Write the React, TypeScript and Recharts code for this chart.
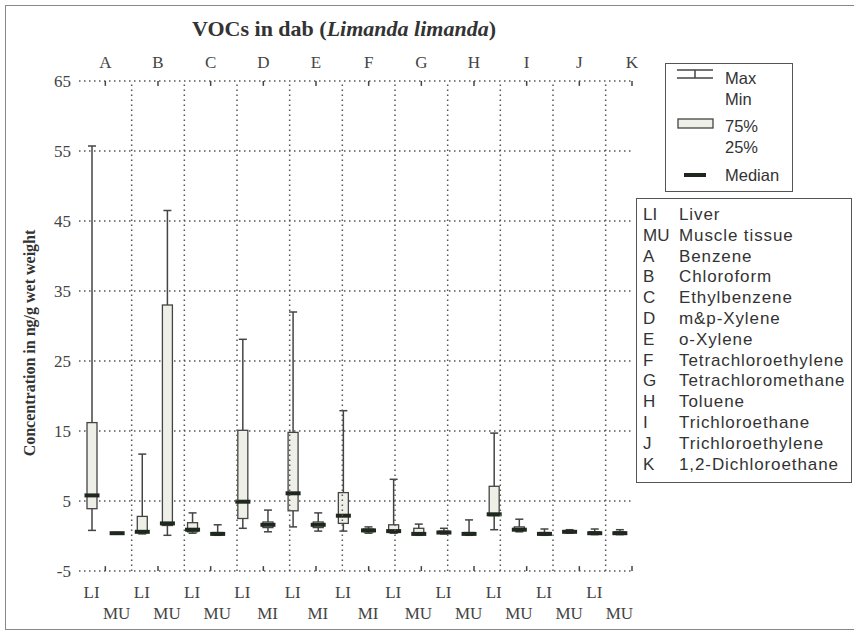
import React from "react";
import {
  Bar,
  CartesianGrid,
  ComposedChart,
  ReferenceArea,
  ReferenceLine,
  XAxis,
  YAxis,
} from "recharts";

// compounds A..K, two tissues each (liver first, muscle second)
const compounds = ["A", "B", "C", "D", "E", "F", "G", "H", "I", "J", "K"];
const compoundNames = [
  "Benzene",
  "Chloroform",
  "Ethylbenzene",
  "m&p-Xylene",
  "o-Xylene",
  "Tetrachloroethylene",
  "Tetrachloromethane",
  "Toluene",
  "Trichloroethane",
  "Trichloroethylene",
  "1,2-Dichloroethane",
];
const tissueLabels = [
  "LI", "MU", "LI", "MU", "LI", "MU", "LI", "MI", "LI", "MI", "LI",
  "MI", "LI", "MU", "LI", "MU", "LI", "MU", "LI", "MU", "LI", "MU",
];

// ng/g wet weight
const mins = [0.8, 0.3, 0.3, 0.1, 0.4, 0.1, 1.1, 0.6, 1.3, 0.7, 0.7, 0.4, 0.4, 0.1, 0.3, 0.1, 0.9, 0.6, 0.1, 0.4, 0.2, 0.2];
const q1s = [3.9, 0.35, 0.5, 1.5, 0.6, 0.2, 2.5, 1.2, 3.6, 1.2, 1.8, 0.6, 0.5, 0.2, 0.4, 0.2, 2.9, 0.8, 0.2, 0.5, 0.3, 0.3];
const medians = [5.8, 0.4, 0.6, 1.8, 0.9, 0.3, 4.9, 1.6, 6.1, 1.6, 2.9, 0.8, 0.7, 0.3, 0.5, 0.3, 3.1, 0.9, 0.3, 0.6, 0.4, 0.4];
const q3s = [16.2, 0.45, 2.8, 33.0, 1.9, 0.5, 15.1, 2.0, 14.8, 2.0, 6.2, 1.0, 1.6, 1.1, 0.7, 0.5, 7.1, 1.3, 0.5, 0.7, 0.6, 0.6];
const maxs = [55.7, 0.5, 11.7, 46.5, 3.3, 1.6, 28.1, 3.7, 32.0, 3.3, 17.9, 1.3, 8.1, 1.7, 1.1, 2.3, 14.7, 2.4, 1.0, 0.9, 1.0, 0.9];

const yTicks = [-5, 5, 15, 25, 35, 45, 55, 65];
const groupCenters = [1, 3, 5, 7, 9, 11, 13, 15, 17, 19, 21];
const groupEdges = [2, 4, 6, 8, 10, 12, 14, 16, 18, 20];

const rows = tissueLabels.map((t, i) => ({
  key: `${compounds[Math.floor(i / 2)]}-${i % 2 ? "MU" : "LI"}`,
  min: mins[i],
  q1: q1s[i],
  median: medians[i],
  q3: q3s[i],
  max: maxs[i],
}));

const INK = "#444";
const SERIF = '"Liberation Serif", "Times New Roman", serif';
const SANS = '"Liberation Sans", Arial, sans-serif';

function BoxShape(props: any) {
  const { x, y, width, height, payload } = props;
  const top = Math.min(y, y + height);
  const h = Math.abs(height);
  const { min, q1, median, q3, max } = payload;
  const py = (v: number) => top + (h * (max - v)) / (max - min);
  const cx = x + width / 2;
  return (
    <g>
      <line x1={cx} x2={cx} y1={py(max)} y2={py(min)} stroke={INK} strokeWidth={1.5} />
      <line x1={cx - 4} x2={cx + 4} y1={py(max)} y2={py(max)} stroke={INK} strokeWidth={1.5} />
      <line x1={cx - 4} x2={cx + 4} y1={py(min)} y2={py(min)} stroke={INK} strokeWidth={1.5} />
      <rect
        x={x}
        y={py(q3)}
        width={width}
        height={Math.max(py(q1) - py(q3), 0.5)}
        fill="#eef0e8"
        stroke={INK}
        strokeWidth={1.3}
      />
      <rect x={x - 2.5} y={py(median) - 2} width={width + 5} height={4} fill="#1e281e" />
    </g>
  );
}

function BottomTick(props: any) {
  const { x, y, index } = props;
  const lower = index % 2 === 1;
  return (
    <text
      x={x}
      y={y + (lower ? 40 : 19)}
      textAnchor="middle"
      fontFamily={SERIF}
      fontSize={17}
      fill={INK}
    >
      {tissueLabels[index]}
    </text>
  );
}

function TopTick(props: any) {
  const { x, y, payload } = props;
  return (
    <text x={x} y={y - 5} textAnchor="middle" fontFamily={SERIF} fontSize={17} fill={INK}>
      {compounds[(payload.value - 1) / 2]}
    </text>
  );
}

function SummaryLegend() {
  const text = { position: "absolute" as const, left: 59, fontFamily: SANS, fontSize: 16.5, color: "#333", lineHeight: "20px" };
  return (
    <div
      style={{
        position: "absolute",
        left: 665,
        top: 63,
        width: 126,
        height: 127,
        border: "1.5px solid #555",
      }}
    >
      <svg width={50} height={127} style={{ position: "absolute", left: 0, top: 0 }}>
        <line x1={11} x2={47} y1={6} y2={6} stroke={INK} strokeWidth={1.5} />
        <line x1={29} x2={29} y1={6} y2={14} stroke={INK} strokeWidth={1.5} />
        <line x1={11} x2={47} y1={14} y2={14} stroke={INK} strokeWidth={1.5} />
        <rect x={12} y={55} width={35} height={9} fill="#eef0e8" stroke={INK} strokeWidth={1.3} />
        <rect x={18} y={109} width={22} height={4} fill="#1e281e" />
      </svg>
      <div style={{ ...text, top: 4 }}>Max</div>
      <div style={{ ...text, top: 25 }}>Min</div>
      <div style={{ ...text, top: 52 }}>75%</div>
      <div style={{ ...text, top: 73 }}>25%</div>
      <div style={{ ...text, top: 101 }}>Median</div>
    </div>
  );
}

function KeyLegend() {
  const entries = [["LI", "Liver"], ["MU", "Muscle tissue"], ...compounds.map((c, i) => [c, compoundNames[i]])];
  return (
    <div
      style={{
        position: "absolute",
        left: 636,
        top: 198,
        width: 214,
        height: 283,
        border: "1.5px solid #555",
        fontFamily: SANS,
        fontSize: 17,
        color: "#333",
      }}
    >
      {entries.map(([code, name], i) => (
        <div key={code} style={{ position: "absolute", top: 6 + i * 20.8, left: 6, lineHeight: "20px", whiteSpace: "nowrap" }}>
          <span style={{ display: "inline-block", width: 36 }}>{code}</span>
          <span style={{ letterSpacing: 0.9 }}>{name}</span>
        </div>
      ))}
    </div>
  );
}

export default function App() {
  return (
    <div
      style={{
        position: "absolute",
        left: 0,
        top: 0,
        width: 854,
        height: 634,
        overflow: "hidden",
        background: "#fff",
      }}
    >
      <div
        style={{
          position: "absolute",
          left: 5,
          top: 5,
          width: 900,
          height: 623,
          border: "1.5px solid #888",
        }}
      />
      <div
        style={{
          position: "absolute",
          left: 0,
          width: 688,
          top: 16,
          textAlign: "center",
          fontFamily: SERIF,
          fontWeight: "bold",
          fontSize: 22,
          color: "#333",
        }}
      >
        VOCs in dab (<i>Limanda limanda</i>)
      </div>
      <div
        style={{
          position: "absolute",
          left: 30,
          top: 343,
          transform: "translate(-50%, -50%) rotate(-90deg)",
          whiteSpace: "nowrap",
          fontFamily: SERIF,
          fontWeight: "bold",
          fontSize: 16,
          color: "#333",
        }}
      >
        Concentration in ng/g wet weight
      </div>
      <div style={{ position: "absolute", left: 0, top: 0 }}>
        <ComposedChart
          width={854}
          height={634}
          data={rows}
          margin={{ top: 51, right: 222, bottom: 13, left: 39 }}
        >
          <XAxis
            xAxisId="grid"
            type="number"
            domain={[0, 22]}
            allowDataOverflow
            hide
          />
          <XAxis
            xAxisId="top"
            type="number"
            orientation="top"
            domain={[0, 22]}
            ticks={groupCenters}
            allowDataOverflow
            height={30}
            axisLine={false}
            tickLine={false}
            tick={<TopTick />}
          />
          <XAxis
            xAxisId="cat"
            dataKey="key"
            type="category"
            interval={0}
            height={50}
            axisLine={false}
            tickLine={false}
            tick={<BottomTick />}
          />
          <YAxis
            domain={[-5, 65]}
            ticks={yTicks}
            allowDataOverflow
            width={40}
            axisLine={false}
            tickLine={false}
            tick={{ fontFamily: SERIF, fontSize: 17, fill: INK }}
          />
          <CartesianGrid
            vertical={false}
            stroke="#555"
            strokeWidth={1.5}
            strokeDasharray="1.5 3.5"
          />
          {groupEdges.map((g) => (
            <ReferenceLine
              key={`v${g}`}
              xAxisId="grid"
              x={g}
              stroke="#555"
              strokeWidth={1.5}
              strokeDasharray="1.5 3.5"
            />
          ))}
          {groupCenters.map((g) => (
            <ReferenceLine
              key={`t${g}`}
              xAxisId="grid"
              segment={[{ x: g, y: 65 }, { x: g, y: 64.3 }]}
              stroke={INK}
              strokeWidth={1.5}
            />
          ))}
          {groupCenters.map((g) => (
            <ReferenceLine
              key={`b${g}`}
              xAxisId="grid"
              segment={[{ x: g, y: -5 }, { x: g, y: -4.3 }]}
              stroke={INK}
              strokeWidth={1.5}
            />
          ))}
          <Bar
            xAxisId="cat"
            dataKey={(d: any) => [d.min, d.max]}
            barSize={10}
            shape={<BoxShape />}
            isAnimationActive={false}
          />
          <ReferenceArea
            xAxisId="grid"
            x1={0}
            x2={22}
            y1={-5}
            y2={65}
            fill="none"
            fillOpacity={0}
            stroke="#555"
            strokeWidth={2}
          />
        </ComposedChart>
      </div>
      <SummaryLegend />
      <KeyLegend />
    </div>
  );
}
